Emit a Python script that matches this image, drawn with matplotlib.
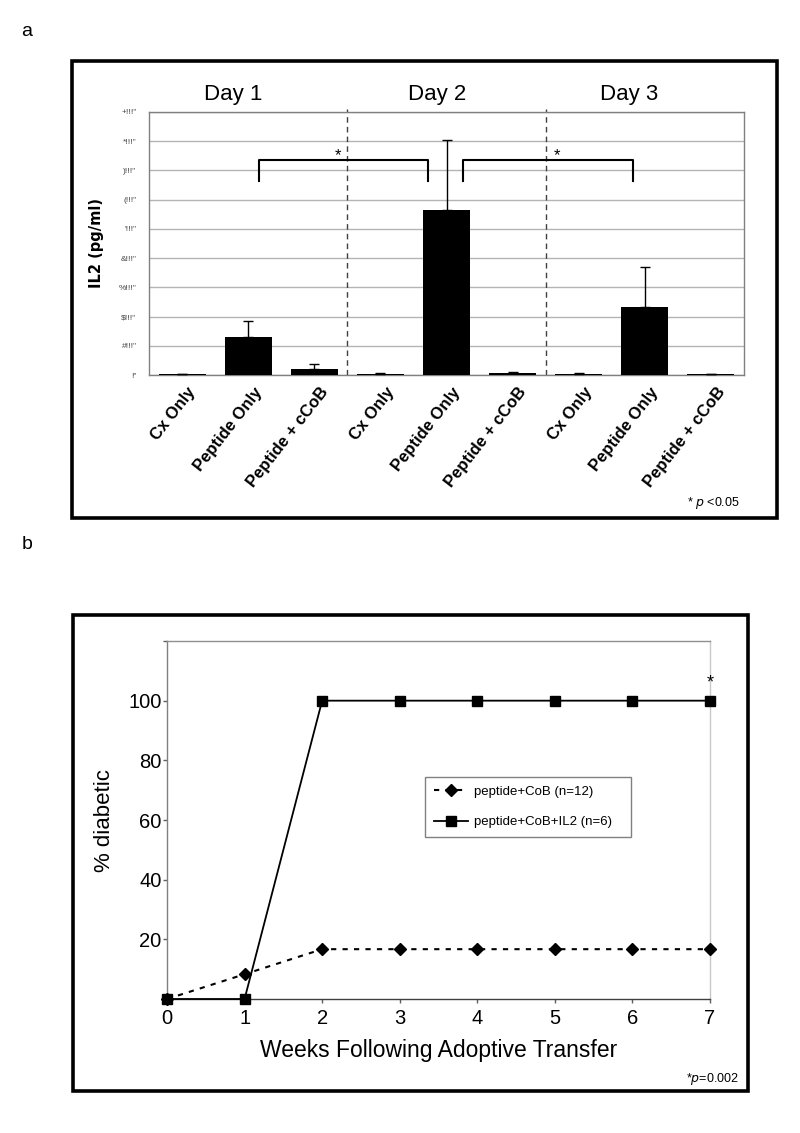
import numpy as np
import matplotlib
matplotlib.use('Agg')
from matplotlib import pyplot as plt
from matplotlib.patches import Rectangle
import matplotlib.transforms as mtrans

plt.rcParams['font.family'] = ['Liberation Sans', 'DejaVu Sans']

# panel a data (IL2, units of the garbled axis: 0..9000)
cats = ['Cx Only', 'Peptide Only', 'Peptide + cCoB'] * 3
days = ['Day 1', 'Day 2', 'Day 3']
il2 = [30, 1290, 205, 45, 5650, 80, 40, 2320, 20]
il2_err = [20, 550, 180, 15, 2390, 30, 30, 1370, 20]
ytick_vals = [0, 1000, 2000, 3000, 4000, 5000, 6000, 7000, 8000, 9000]
ytick_text = ['!"', '#!!!"', '$!!!"', '%!!!"', '&!!!"', "'!!!\"", '(!!!"', ')!!!"', '*!!!"', '+!!!"']

# panel b data
weeks = [0, 1, 2, 3, 4, 5, 6, 7]
cob = [0, 8.3, 16.7, 16.7, 16.7, 16.7, 16.7, 16.7]
cob_il2 = [0, 0, 100, 100, 100, 100, 100, 100]

W, H = 800, 1133
fig = plt.figure(figsize=(W / 100, H / 100), dpi=100)

def box(x0, y0, x1, y1):
    # outer frame in pixel coords
    fig.patches.append(Rectangle((x0 / W, 1 - y1 / H), (x1 - x0) / W, (y1 - y0) / H,
                                 transform=fig.transFigure, fill=False, lw=2.6, ec='black'))

box(72, 61, 777, 518)
box(73, 615, 748, 1091)
fig.text(27 / W, 1 - 31 / H, 'a', fontsize=14, ha='center', va='center')
fig.text(27 / W, 1 - 545 / H, 'b', fontsize=14, ha='center', va='center')

# ---------------- panel a ----------------
ax1 = fig.add_axes([149 / W, 1 - 375 / H, 595 / W, 263 / H])
x = np.arange(len(cats))
ax1.bar(x, il2, width=0.71, color='black', zorder=3)
ax1.errorbar(x, il2, yerr=[np.zeros(len(il2)), il2_err], fmt='none', ecolor='black',
             elinewidth=1, capsize=3.5, capthick=1, zorder=4)
ax1.set_xlim(-0.5, len(cats) - 0.5)
ax1.set_ylim(0, 9000)
ax1.set_yticks(ytick_vals)
ax1.set_yticklabels(ytick_text, fontsize=6, color='#444444')
ax1.tick_params(axis='y', length=0, pad=9)
ax1.set_xticks([])
ax1.grid(axis='y', color='#b4b4b4', lw=1, zorder=0)
for s in ax1.spines.values():
    s.set_color('#808080')
    s.set_linewidth(1)
ax1.set_ylabel('IL2 (pg/ml)', family='DejaVu Sans', fontweight='bold', fontsize=10.5)
ax1.yaxis.set_label_coords(-0.076, 0.5)

for sep in [2.5, 5.5]:
    ax1.axvline(sep, ymin=0, ymax=1.012, color='#404040', ls=(0, (4, 3)), lw=1, clip_on=False, zorder=2)

for xi, d in zip([0.78, 3.86, 6.76], days):
    ax1.text(xi, 1.065, d, transform=ax1.get_xaxis_transform(), ha='center', va='center', fontsize=16)

# category labels, rotated
off = mtrans.ScaledTranslation(11 / 100, -14 / 100, fig.dpi_scale_trans)
for xi, c in zip(x, cats):
    ax1.text(xi, 0, c, transform=ax1.get_xaxis_transform() + off, rotation=52,
             rotation_mode='anchor', ha='right', va='center', fontsize=12, fontweight='bold')

# significance brackets
for (xa, xb, sx) in [(1.16, 3.72, 2.36), (4.25, 6.82, 5.67)]:
    ax1.plot([xa, xa, xb, xb], [6640, 7360, 7360, 6640], color='black', lw=1.5, zorder=5,
             solid_joinstyle='round')
    ax1.text(sx, 7520, '*', ha='center', va='center', fontsize=12)

fig.text(740 / W, 1 - 503 / H, '* $\\it{p}$ <0.05', ha='right', va='center', fontsize=9)

# ---------------- panel b ----------------
ax2 = fig.add_axes([167 / W, 1 - 999 / H, 543 / W, 358 / H])
ax2.plot(weeks, cob, color='black', ls=(0, (2.5, 3)), lw=1.5, marker='D', markersize=6.5,
         clip_on=False, zorder=4, label='peptide+CoB (n=12)')
ax2.plot(weeks, cob_il2, color='black', ls='-', lw=1.3, marker='s', markersize=6.5,
         clip_on=False, zorder=5, label='peptide+CoB+IL2 (n=6)')
ax2.set_xlim(0, 7)
ax2.set_ylim(0, 120)
ax2.set_xticks(weeks)
ax2.set_xticklabels([str(w) for w in weeks], fontsize=14.5)
ax2.set_yticks([0, 20, 40, 60, 80, 100, 120])
ax2.set_yticklabels(['', '20', '40', '60', '80', '100', ''], fontsize=14.5)
ax2.tick_params(axis='y', direction='out', length=3, width=1, pad=1, color='#606060')
ax2.tick_params(axis='x', direction='out', length=3, width=1, pad=4, color='#606060')
ax2.spines['top'].set_color('#909090')
ax2.spines['right'].set_color('#c8c8c8')
ax2.spines['left'].set_color('#808080')
ax2.spines['bottom'].set_color('#404040')
for s in ax2.spines.values():
    s.set_linewidth(1)
ax2.set_ylabel('% diabetic', fontsize=16)
ax2.yaxis.set_label_coords(-0.095, 0.5)
ax2.set_xlabel('Weeks Following Adoptive Transfer', fontsize=16.5, labelpad=8)
ax2.text(7, 106, '*', ha='center', va='center', fontsize=13)

leg = ax2.legend(loc='center', bbox_to_anchor=(0.475, 0.4385, 0.379, 0.1955), mode='expand',
                 fontsize=9.5, frameon=True, fancybox=False, handlelength=2.6, labelspacing=1.35,
                 borderpad=0.7, borderaxespad=0, handletextpad=0.4)
leg.get_frame().set_edgecolor('#606060')
leg.get_frame().set_linewidth(1)

fig.text(739 / W, 1 - 1079 / H, '*$\\it{p}$=0.002', ha='right', va='center', fontsize=9)

fig.savefig('out.png', dpi=100)
